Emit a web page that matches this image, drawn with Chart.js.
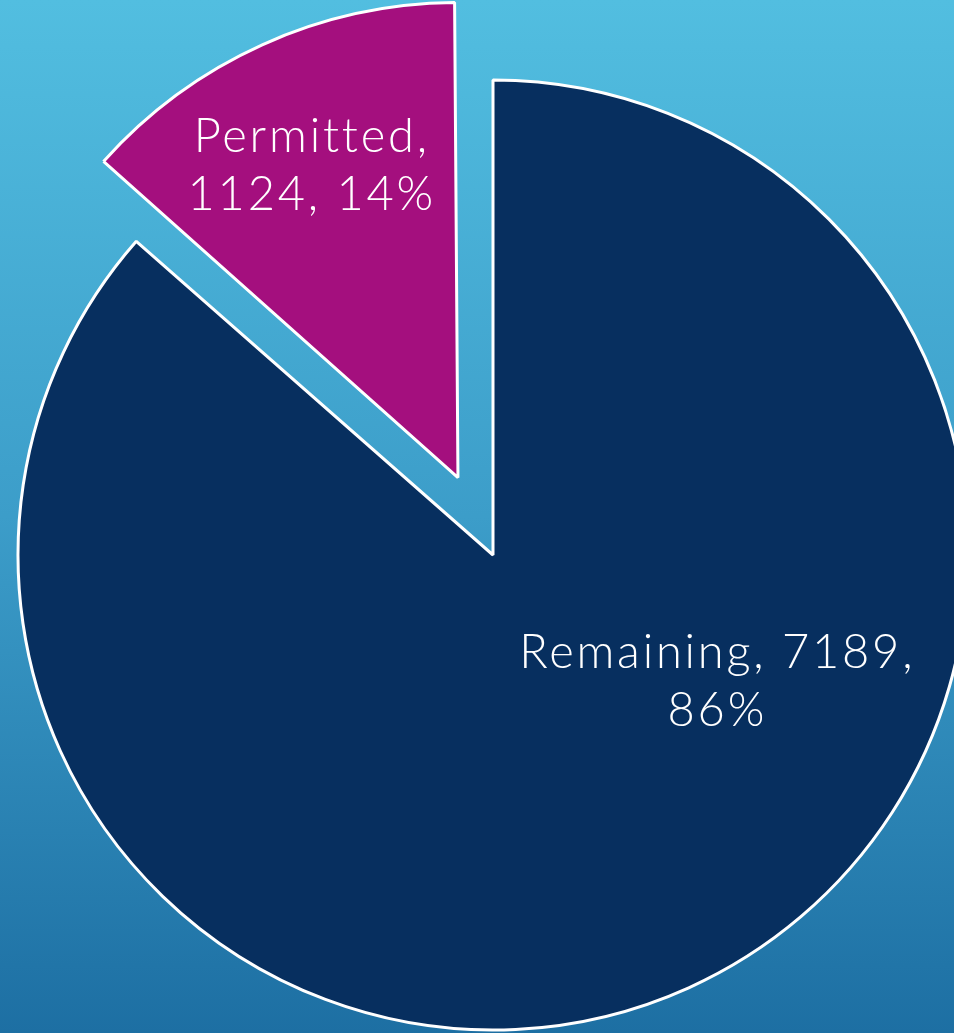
<!DOCTYPE html>
<html>
<head>
<meta charset="utf-8">
<script src="https://cdn.jsdelivr.net/npm/chart.js@4/dist/chart.umd.min.js"></script>
<style>
  html, body { margin: 0; padding: 0; }
  body {
    width: 954px; height: 1033px; overflow: hidden;
    background: linear-gradient(to bottom, #52bee0 0%, #3c9dc9 50%, #1d6fa3 100%);
  }
  #wrap { position: relative; width: 954px; height: 1033px; }
</style>
</head>
<body>
<div id="wrap"><canvas id="pie" width="954" height="1033"></canvas></div>
<script>
const categories = ["Remaining", "Permitted"];
const counts = [7189, 1124];
const percentLabels = ["86%", "14%"];
const sliceColors = ["#072f5f", "#a40f7e"];
const explodePx = [0, 85];

// label placement: [angle shift from slice middle (deg), fraction of radius]
const labelPlacement = [[-36, 0.54], [-1, 0.76]];
const labelLines = [
  [`${categories[0]}, ${counts[0]},`, percentLabels[0]],
  [`${categories[1]},`, `${counts[1]}, ${percentLabels[1]}`],
];

// Chart.js grows an offset arc's radius; shrink it back so the exploded
// slice keeps the same radius as the rest of the pie
const keepRadius = {
  id: "keepRadius",
  afterDatasetUpdate(chart, args) {
    const meta = chart.getDatasetMeta(args.index);
    meta.data.forEach((arc, i) => {
      const circ = arc.endAngle - arc.startAngle;
      const fix = 1 - Math.sin(Math.min(Math.PI, circ));
      arc.outerRadius -= explodePx[i] * fix;
    });
  },
};

const sliceLabels = {
  id: "sliceLabels",
  afterDatasetsDraw(chart) {
    const { ctx } = chart;
    const meta = chart.getDatasetMeta(0);
    ctx.save();
    ctx.fillStyle = "#ffffff";
    ctx.font = '300 47px "Lato", "Open Sans", sans-serif';
    ctx.letterSpacing = "2.8px";
    ctx.textAlign = "center";
    ctx.textBaseline = "middle";
    meta.data.forEach((arc, i) => {
      const p = arc.getProps(["x", "y", "startAngle", "endAngle", "outerRadius"], true);
      const bis = (p.startAngle + p.endAngle) / 2;
      const mid = bis + labelPlacement[i][0] * Math.PI / 180;
      const r = p.outerRadius * labelPlacement[i][1];
      const offs = explodePx[i];
      const cx = p.x + Math.cos(bis) * offs + Math.cos(mid) * r;
      const cy = p.y + Math.sin(bis) * offs + Math.sin(mid) * r;
      const lines = labelLines[i];
      const lh = 58;
      lines.forEach((t, k) => {
        ctx.fillText(t, cx + 1.4, cy + (k - (lines.length - 1) / 2) * lh);
      });
    });
    ctx.restore();
  },
};

new Chart(document.getElementById("pie"), {
  type: "pie",
  data: {
    labels: categories,
    datasets: [{
      data: counts,
      backgroundColor: sliceColors,
      borderColor: "#ffffff",
      borderWidth: 3,
      // Chart.js moves an arc by offset / 4 pixels
      offset: explodePx.map((v) => v * 4),
      clip: false,
    }],
  },
  options: {
    responsive: false,
    animation: false,
    radius: 475,
    layout: { padding: { left: 32, right: 0, top: 77, bottom: 0 } },
    plugins: {
      legend: { display: false },
      tooltip: { enabled: false },
    },
  },
  plugins: [keepRadius, sliceLabels],
});
</script>
</body>
</html>
